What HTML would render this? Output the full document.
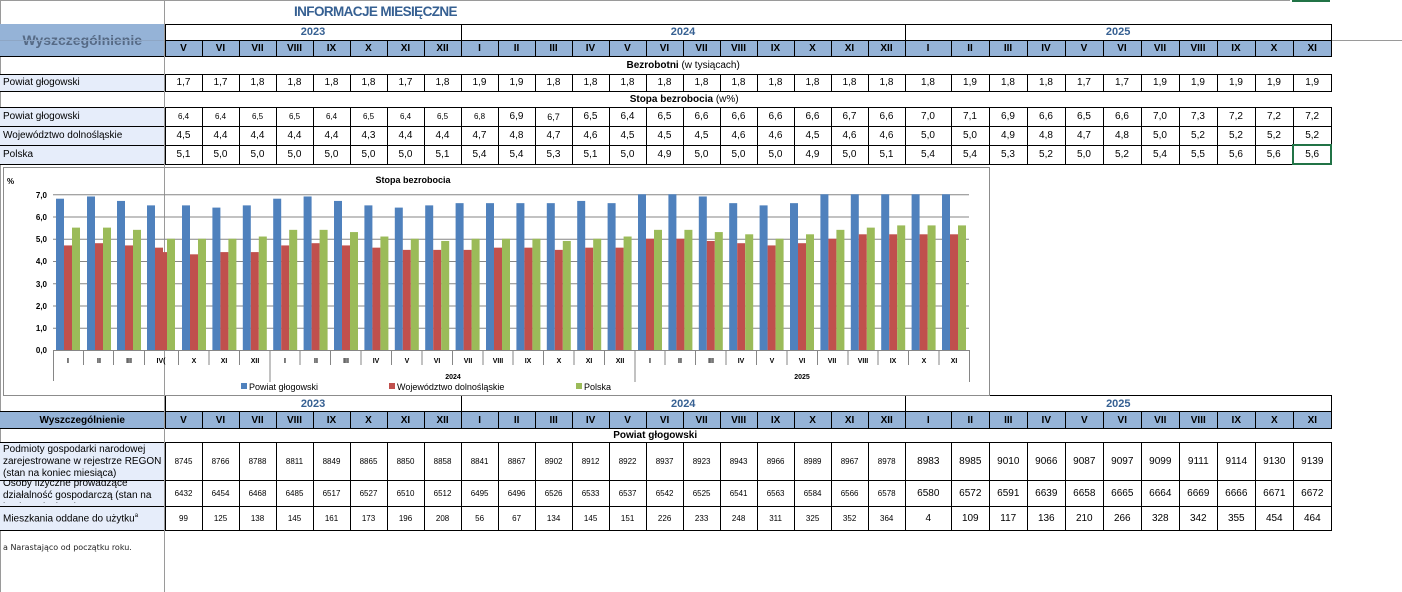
<!DOCTYPE html>
<html><head><meta charset="utf-8">
<style>
body{margin:0;width:1402px;height:592px;background:#fff;position:relative;overflow:hidden;font-family:"Liberation Sans",Arial,sans-serif;color:#000}
table{border-collapse:collapse;table-layout:fixed;position:absolute;left:0}
td{padding:0;font-size:10px;text-align:center;white-space:nowrap;overflow:hidden}
.yr{border:1px solid #000;font-weight:bold;font-size:11px;color:#366092}
.m{background:#95b3d7;border:1px solid #000;font-weight:bold;font-size:10px}
.lab{background:#e6edfa;text-align:left;padding-left:3px;border-top:1px solid #000;border-bottom:1px solid #000}
.d td.v{border:1px solid #000}
.s td.v{font-size:8px}
.sec{font-weight:bold;font-size:10px}
</style></head><body>
<div style="position:absolute;left:0;top:0;width:1290px;height:1px;background:#9a9a9a"></div>
<div style="position:absolute;left:1292px;top:0;width:38px;height:2px;background:#217346"></div>
<div style="position:absolute;left:1332px;top:40px;width:70px;height:1px;background:#9a9a9a"></div>
<div style="position:absolute;left:0;top:0;width:1px;height:592px;background:#9a9a9a"></div>

<table style="top:0;width:1331px">
<colgroup><col style="width:165px"><col span="20" style="width:37px"><col style="width:46px"><col span="10" style="width:38px"></colgroup>
<tr style="height:24px"><td></td><td colspan="31" style="text-align:left;padding-left:129px;font-weight:bold;font-size:13.5px;letter-spacing:-0.6px;color:#366092">INFORMACJE MIESIĘCZNE</td></tr>
<tr style="height:16px"><td rowspan="2" style="background:#95b3d7;font-weight:bold;font-size:14px;color:#566a85;border-bottom:1px solid #000">Wyszczególnienie</td><td colspan="8" class="yr">2023</td><td colspan="12" class="yr">2024</td><td colspan="11" class="yr">2025</td></tr>
<tr style="height:16px"><td class="m">V</td><td class="m">VI</td><td class="m">VII</td><td class="m">VIII</td><td class="m">IX</td><td class="m">X</td><td class="m">XI</td><td class="m">XII</td><td class="m">I</td><td class="m">II</td><td class="m">III</td><td class="m">IV</td><td class="m">V</td><td class="m">VI</td><td class="m">VII</td><td class="m">VIII</td><td class="m">IX</td><td class="m">X</td><td class="m">XI</td><td class="m">XII</td><td class="m">I</td><td class="m">II</td><td class="m">III</td><td class="m">IV</td><td class="m">V</td><td class="m">VI</td><td class="m">VII</td><td class="m">VIII</td><td class="m">IX</td><td class="m">X</td><td class="m">XI</td></tr>
<tr style="height:18px"><td></td><td colspan="31" style="padding-right:130px;font-size:10px"><b>Bezrobotni</b> (w tysiącach)</td></tr>
<tr class="d" style="height:17px"><td class="lab">Powiat głogowski</td><td class="v">1,7</td><td class="v">1,7</td><td class="v">1,8</td><td class="v">1,8</td><td class="v">1,8</td><td class="v">1,8</td><td class="v">1,7</td><td class="v">1,8</td><td class="v">1,9</td><td class="v">1,9</td><td class="v">1,8</td><td class="v">1,8</td><td class="v">1,8</td><td class="v">1,8</td><td class="v">1,8</td><td class="v">1,8</td><td class="v">1,8</td><td class="v">1,8</td><td class="v">1,8</td><td class="v">1,8</td><td class="v">1,8</td><td class="v">1,9</td><td class="v">1,8</td><td class="v">1,8</td><td class="v">1,7</td><td class="v">1,7</td><td class="v">1,9</td><td class="v">1,9</td><td class="v">1,9</td><td class="v">1,9</td><td class="v">1,9</td></tr>
<tr style="height:16px"><td></td><td colspan="31" style="padding-right:128px;font-size:10px"><b>Stopa bezrobocia</b> (w%)</td></tr>
<tr class="d" style="height:19px"><td class="lab">Powiat głogowski</td><td class="v" style="font-size:8px">6,4</td><td class="v" style="font-size:8px">6,4</td><td class="v" style="font-size:8px">6,5</td><td class="v" style="font-size:8px">6,5</td><td class="v" style="font-size:8px">6,4</td><td class="v" style="font-size:8px">6,5</td><td class="v" style="font-size:8px">6,4</td><td class="v" style="font-size:8px">6,5</td><td class="v" style="font-size:8px">6,8</td><td class="v">6,9</td><td class="v" style="font-size:9px">6,7</td><td class="v">6,5</td><td class="v">6,4</td><td class="v">6,5</td><td class="v">6,6</td><td class="v">6,6</td><td class="v">6,6</td><td class="v">6,6</td><td class="v">6,7</td><td class="v">6,6</td><td class="v">7,0</td><td class="v">7,1</td><td class="v">6,9</td><td class="v">6,6</td><td class="v">6,5</td><td class="v">6,6</td><td class="v">7,0</td><td class="v">7,3</td><td class="v">7,2</td><td class="v">7,2</td><td class="v">7,2</td></tr>
<tr class="d" style="height:19px"><td class="lab">Województwo dolnośląskie</td><td class="v">4,5</td><td class="v">4,4</td><td class="v">4,4</td><td class="v">4,4</td><td class="v">4,4</td><td class="v">4,3</td><td class="v">4,4</td><td class="v">4,4</td><td class="v">4,7</td><td class="v">4,8</td><td class="v">4,7</td><td class="v">4,6</td><td class="v">4,5</td><td class="v">4,5</td><td class="v">4,5</td><td class="v">4,6</td><td class="v">4,6</td><td class="v">4,5</td><td class="v">4,6</td><td class="v">4,6</td><td class="v">5,0</td><td class="v">5,0</td><td class="v">4,9</td><td class="v">4,8</td><td class="v">4,7</td><td class="v">4,8</td><td class="v">5,0</td><td class="v">5,2</td><td class="v">5,2</td><td class="v">5,2</td><td class="v">5,2</td></tr>
<tr class="d" style="height:19px"><td class="lab">Polska</td><td class="v">5,1</td><td class="v">5,0</td><td class="v">5,0</td><td class="v">5,0</td><td class="v">5,0</td><td class="v">5,0</td><td class="v">5,0</td><td class="v">5,1</td><td class="v">5,4</td><td class="v">5,4</td><td class="v">5,3</td><td class="v">5,1</td><td class="v">5,0</td><td class="v">4,9</td><td class="v">5,0</td><td class="v">5,0</td><td class="v">5,0</td><td class="v">4,9</td><td class="v">5,0</td><td class="v">5,1</td><td class="v">5,4</td><td class="v">5,4</td><td class="v">5,3</td><td class="v">5,2</td><td class="v">5,0</td><td class="v">5,2</td><td class="v">5,4</td><td class="v">5,5</td><td class="v">5,6</td><td class="v">5,6</td><td class="v" style="border:2px solid #217346">5,6</td></tr>
</table>
<div style="position:absolute;left:0;top:40px;width:164px;height:1px;background:#8ea6c4"></div>

<table style="top:395px;width:1331px">
<colgroup><col style="width:165px"><col span="20" style="width:37px"><col style="width:46px"><col span="10" style="width:38px"></colgroup>
<tr style="height:16px"><td></td><td colspan="8" class="yr">2023</td><td colspan="12" class="yr">2024</td><td colspan="11" class="yr">2025</td></tr>
<tr style="height:17px"><td class="m" style="border-left:none">Wyszczególnienie</td><td class="m">V</td><td class="m">VI</td><td class="m">VII</td><td class="m">VIII</td><td class="m">IX</td><td class="m">X</td><td class="m">XI</td><td class="m">XII</td><td class="m">I</td><td class="m">II</td><td class="m">III</td><td class="m">IV</td><td class="m">V</td><td class="m">VI</td><td class="m">VII</td><td class="m">VIII</td><td class="m">IX</td><td class="m">X</td><td class="m">XI</td><td class="m">XII</td><td class="m">I</td><td class="m">II</td><td class="m">III</td><td class="m">IV</td><td class="m">V</td><td class="m">VI</td><td class="m">VII</td><td class="m">VIII</td><td class="m">IX</td><td class="m">X</td><td class="m">XI</td></tr>
<tr style="height:14px"><td></td><td colspan="31" class="sec" style="padding-right:186px">Powiat głogowski</td></tr>
<tr class="d s" style="height:38px"><td class="lab" style="white-space:normal;line-height:12px">Podmioty gospodarki narodowej zarejestrowane w rejestrze REGON (stan na koniec miesiąca)</td><td class="v">8745</td><td class="v">8766</td><td class="v">8788</td><td class="v">8811</td><td class="v">8849</td><td class="v">8865</td><td class="v">8850</td><td class="v">8858</td><td class="v">8841</td><td class="v">8867</td><td class="v">8902</td><td class="v">8912</td><td class="v">8922</td><td class="v">8937</td><td class="v">8923</td><td class="v">8943</td><td class="v">8966</td><td class="v">8989</td><td class="v">8967</td><td class="v">8978</td><td class="v" style="font-size:10px">8983</td><td class="v" style="font-size:10px">8985</td><td class="v" style="font-size:10px">9010</td><td class="v" style="font-size:10px">9066</td><td class="v" style="font-size:10px">9087</td><td class="v" style="font-size:10px">9097</td><td class="v" style="font-size:10px">9099</td><td class="v" style="font-size:10px">9111</td><td class="v" style="font-size:10px">9114</td><td class="v" style="font-size:10px">9130</td><td class="v" style="font-size:10px">9139</td></tr>
<tr class="d s" style="height:26px"><td class="lab"><div style="height:25px;overflow:hidden;white-space:normal;line-height:12px;margin-top:-6px">Osoby fizyczne prowadzące działalność gospodarczą (stan na koniec miesiąca)</div></td><td class="v">6432</td><td class="v">6454</td><td class="v">6468</td><td class="v">6485</td><td class="v">6517</td><td class="v">6527</td><td class="v">6510</td><td class="v">6512</td><td class="v">6495</td><td class="v">6496</td><td class="v">6526</td><td class="v">6533</td><td class="v">6537</td><td class="v">6542</td><td class="v">6525</td><td class="v">6541</td><td class="v">6563</td><td class="v">6584</td><td class="v">6566</td><td class="v">6578</td><td class="v" style="font-size:10px">6580</td><td class="v" style="font-size:10px">6572</td><td class="v" style="font-size:10px">6591</td><td class="v" style="font-size:10px">6639</td><td class="v" style="font-size:10px">6658</td><td class="v" style="font-size:10px">6665</td><td class="v" style="font-size:10px">6664</td><td class="v" style="font-size:10px">6669</td><td class="v" style="font-size:10px">6666</td><td class="v" style="font-size:10px">6671</td><td class="v" style="font-size:10px">6672</td></tr>
<tr class="d s" style="height:24px"><td class="lab">Mieszkania oddane do użytku<sup style="font-size:6px">a</sup></td><td class="v">99</td><td class="v">125</td><td class="v">138</td><td class="v">145</td><td class="v">161</td><td class="v">173</td><td class="v">196</td><td class="v">208</td><td class="v">56</td><td class="v">67</td><td class="v">134</td><td class="v">145</td><td class="v">151</td><td class="v">226</td><td class="v">233</td><td class="v">248</td><td class="v">311</td><td class="v">325</td><td class="v">352</td><td class="v">364</td><td class="v" style="font-size:10px">4</td><td class="v" style="font-size:10px">109</td><td class="v" style="font-size:10px">117</td><td class="v" style="font-size:10px">136</td><td class="v" style="font-size:10px">210</td><td class="v" style="font-size:10px">266</td><td class="v" style="font-size:10px">328</td><td class="v" style="font-size:10px">342</td><td class="v" style="font-size:10px">355</td><td class="v" style="font-size:10px">454</td><td class="v" style="font-size:10px">464</td></tr>
</table>
<div style="position:absolute;left:3px;top:543px;font-size:8px;font-family:'DejaVu Sans',sans-serif;color:#222">a Narastająco od początku roku.</div>

<svg width="1402" height="592" style="position:absolute;left:0;top:0" font-family="Liberation Sans, sans-serif">
<rect x="3.5" y="167.5" width="986" height="228" fill="#fff" stroke="#8c8c8c"/>
<line x1="164.5" y1="0" x2="164.5" y2="592" stroke="#9a9a9a"/>
<g stroke="#868686" stroke-width="1">
<line x1="53" y1="350.5" x2="969" y2="350.5"/><line x1="53" y1="328.25" x2="969" y2="328.25"/><line x1="53" y1="306" x2="969" y2="306"/><line x1="53" y1="283.75" x2="969" y2="283.75"/><line x1="53" y1="261.5" x2="969" y2="261.5"/><line x1="53" y1="239.25" x2="969" y2="239.25"/><line x1="53" y1="217" x2="969" y2="217"/><line x1="53" y1="194.75" x2="969" y2="194.75"/>
</g>
<g font-size="8" font-weight="bold" text-anchor="end" fill="#000">
<text x="47" y="353">0,0</text><text x="47" y="331">1,0</text><text x="47" y="309">2,0</text><text x="47" y="287">3,0</text><text x="47" y="264">4,0</text><text x="47" y="242">5,0</text><text x="47" y="220">6,0</text><text x="47" y="198">7,0</text>
</g>
<text x="7" y="184" font-size="8" font-weight="bold">%</text>
<text x="413" y="183" font-size="9" font-weight="bold" text-anchor="middle">Stopa bezrobocia</text>
<g transform="translate(0,350) scale(1,-22.25)">
<g fill="#4f81bd">
<rect x="56" width="8" height="6.8"/><rect x="87" width="8" height="6.9"/><rect x="117" width="8" height="6.7"/><rect x="147" width="8" height="6.5"/><rect x="182" width="8" height="6.5"/><rect x="212.4" width="8" height="6.4"/><rect x="242.8" width="8" height="6.5"/><rect x="273.2" width="8" height="6.8"/><rect x="303.6" width="8" height="6.9"/><rect x="334" width="8" height="6.7"/><rect x="364.4" width="8" height="6.5"/><rect x="394.8" width="8" height="6.4"/><rect x="425.2" width="8" height="6.5"/><rect x="455.6" width="8" height="6.6"/><rect x="486" width="8" height="6.6"/><rect x="516.4" width="8" height="6.6"/><rect x="546.8" width="8" height="6.6"/><rect x="577.2" width="8" height="6.7"/><rect x="607.6" width="8" height="6.6"/><rect x="638" width="8" height="7"/><rect x="668.4" width="8" height="7"/><rect x="698.8" width="8" height="6.9"/><rect x="729.2" width="8" height="6.6"/><rect x="759.6" width="8" height="6.5"/><rect x="790" width="8" height="6.6"/><rect x="820.4" width="8" height="7"/><rect x="850.8" width="8" height="7"/><rect x="881.2" width="8" height="7"/><rect x="911.6" width="8" height="7"/><rect x="942" width="8" height="7"/>
</g>
<g fill="#c0504d">
<rect x="64" width="8" height="4.7"/><rect x="95" width="8" height="4.8"/><rect x="125" width="8" height="4.7"/><rect x="155" width="8" height="4.6"/><rect x="190" width="8" height="4.3"/><rect x="220.4" width="8" height="4.4"/><rect x="250.8" width="8" height="4.4"/><rect x="281.2" width="8" height="4.7"/><rect x="311.6" width="8" height="4.8"/><rect x="342" width="8" height="4.7"/><rect x="372.4" width="8" height="4.6"/><rect x="402.8" width="8" height="4.5"/><rect x="433.2" width="8" height="4.5"/><rect x="463.6" width="8" height="4.5"/><rect x="494" width="8" height="4.6"/><rect x="524.4" width="8" height="4.6"/><rect x="554.8" width="8" height="4.5"/><rect x="585.2" width="8" height="4.6"/><rect x="615.6" width="8" height="4.6"/><rect x="646" width="8" height="5"/><rect x="676.4" width="8" height="5"/><rect x="706.8" width="8" height="4.9"/><rect x="737.2" width="8" height="4.8"/><rect x="767.6" width="8" height="4.7"/><rect x="798" width="8" height="4.8"/><rect x="828.4" width="8" height="5"/><rect x="858.8" width="8" height="5.2"/><rect x="889.2" width="8" height="5.2"/><rect x="919.6" width="8" height="5.2"/><rect x="950" width="8" height="5.2"/>
</g>
<g fill="#9bbb59">
<rect x="72" width="8" height="5.5"/><rect x="103" width="8" height="5.5"/><rect x="133" width="8" height="5.4"/><rect x="167" width="8" height="5"/><rect x="198" width="8" height="5"/><rect x="228.4" width="8" height="5"/><rect x="258.8" width="8" height="5.1"/><rect x="289.2" width="8" height="5.4"/><rect x="319.6" width="8" height="5.4"/><rect x="350" width="8" height="5.3"/><rect x="380.4" width="8" height="5.1"/><rect x="410.8" width="8" height="5"/><rect x="441.2" width="8" height="4.9"/><rect x="471.6" width="8" height="5"/><rect x="502" width="8" height="5"/><rect x="532.4" width="8" height="5"/><rect x="562.8" width="8" height="4.9"/><rect x="593.2" width="8" height="5"/><rect x="623.6" width="8" height="5.1"/><rect x="654" width="8" height="5.4"/><rect x="684.4" width="8" height="5.4"/><rect x="714.8" width="8" height="5.3"/><rect x="745.2" width="8" height="5.2"/><rect x="775.6" width="8" height="5"/><rect x="806" width="8" height="5.2"/><rect x="836.4" width="8" height="5.4"/><rect x="866.8" width="8" height="5.5"/><rect x="897.2" width="8" height="5.6"/><rect x="927.6" width="8" height="5.6"/><rect x="958" width="8" height="5.6"/>
<rect x="163" width="4" height="4.4" fill="#c0504d"/>
</g>
</g>
<g stroke="#868686">
<line x1="83.5" y1="350" x2="83.5" y2="365"/><line x1="113.5" y1="350" x2="113.5" y2="365"/><line x1="144.5" y1="350" x2="144.5" y2="365"/><line x1="178.5" y1="350" x2="178.5" y2="365"/><line x1="209" y1="350" x2="209" y2="365"/><line x1="239.5" y1="350" x2="239.5" y2="365"/><line x1="300" y1="350" x2="300" y2="365"/><line x1="330.5" y1="350" x2="330.5" y2="365"/><line x1="361" y1="350" x2="361" y2="365"/><line x1="391.5" y1="350" x2="391.5" y2="365"/><line x1="422" y1="350" x2="422" y2="365"/><line x1="452.5" y1="350" x2="452.5" y2="365"/><line x1="483" y1="350" x2="483" y2="365"/><line x1="513" y1="350" x2="513" y2="365"/><line x1="543.5" y1="350" x2="543.5" y2="365"/><line x1="574" y1="350" x2="574" y2="365"/><line x1="604.5" y1="350" x2="604.5" y2="365"/><line x1="665" y1="350" x2="665" y2="365"/><line x1="695.5" y1="350" x2="695.5" y2="365"/><line x1="726" y1="350" x2="726" y2="365"/><line x1="756.5" y1="350" x2="756.5" y2="365"/><line x1="787" y1="350" x2="787" y2="365"/><line x1="817.5" y1="350" x2="817.5" y2="365"/><line x1="848" y1="350" x2="848" y2="365"/><line x1="878" y1="350" x2="878" y2="365"/><line x1="908.5" y1="350" x2="908.5" y2="365"/><line x1="939" y1="350" x2="939" y2="365"/>
<line x1="53.5" y1="350" x2="53.5" y2="381"/><line x1="270" y1="350" x2="270" y2="382"/><line x1="635" y1="350" x2="635" y2="382"/><line x1="969.5" y1="350" x2="969.5" y2="382"/>
</g>
<g font-size="7" font-weight="bold" text-anchor="middle" fill="#000">
<text x="68" y="363">I</text><text x="99" y="363">II</text><text x="129" y="363">III</text><text x="161" y="363">IV(</text><text x="194" y="363">X</text><text x="224" y="363">XI</text><text x="255" y="363">XII</text><text x="285" y="363">I</text><text x="316" y="363">II</text><text x="346" y="363">III</text><text x="376" y="363">IV</text><text x="407" y="363">V</text><text x="437" y="363">VI</text><text x="468" y="363">VII</text><text x="498" y="363">VIII</text><text x="528" y="363">IX</text><text x="559" y="363">X</text><text x="589" y="363">XI</text><text x="620" y="363">XII</text><text x="650" y="363">I</text><text x="680" y="363">II</text><text x="711" y="363">III</text><text x="741" y="363">IV</text><text x="772" y="363">V</text><text x="802" y="363">VI</text><text x="832" y="363">VII</text><text x="863" y="363">VIII</text><text x="893" y="363">IX</text><text x="924" y="363">X</text><text x="954" y="363">XI</text>
<text x="453" y="379">2024</text><text x="802" y="379">2025</text>
</g>
<g font-size="9" fill="#000">
<rect x="241" y="383" width="6" height="6" fill="#4f81bd"/><text x="249" y="390">Powiat głogowski</text>
<rect x="389" y="383" width="6" height="6" fill="#c0504d"/><text x="397" y="390">Województwo dolnośląskie</text>
<rect x="576" y="383" width="6" height="6" fill="#9bbb59"/><text x="584" y="390">Polska</text>
</g>
</svg>
</body></html>
